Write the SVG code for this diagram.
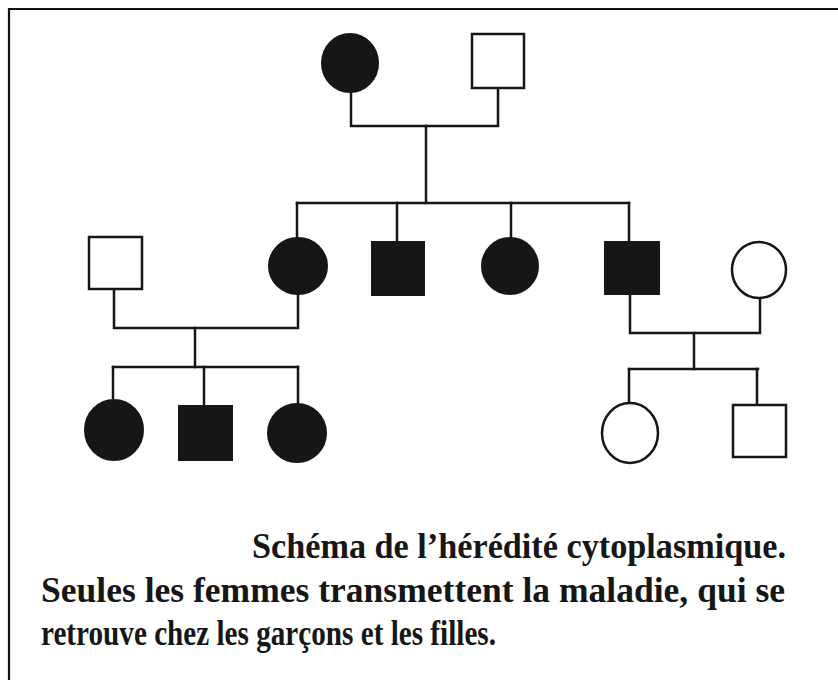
<svg xmlns="http://www.w3.org/2000/svg" width="838" height="680" viewBox="0 0 838 680">
<style>
  .frame { stroke: #111; stroke-width: 2.2; fill: none; }
  .aff { fill: #161616; stroke: #161616; stroke-width: 2; }
  .un { fill: #fff; stroke: #161616; stroke-width: 2.5; }
  .link { stroke: #161616; stroke-width: 2.5; fill: none; stroke-linecap: square; }
  .cap { font-family: "Liberation Serif", "Times New Roman", serif; font-weight: bold; font-size: 35px; fill: #161616; }
</style>
<rect width="838" height="680" fill="#fff"/>
<g id="frame">
  <path class="frame" d="M9 680 V9 H838"/>
</g>
<g id="connectors">
  <path class="link" d="M351 92 V126 H498 V88"/>
  <path class="link" d="M426 126 V203"/>
  <path class="link" d="M297 203 H629"/>
  <path class="link" d="M297 203 V237 M397 203 V242 M511 203 V238 M629 203 V242"/>
  <path class="link" d="M114 289 V328 H298 V295"/>
  <path class="link" d="M195 328 V367"/>
  <path class="link" d="M113 367 H298"/>
  <path class="link" d="M113 367 V400 M204 367 V406 M298 367 V404"/>
  <path class="link" d="M630 294 V333 H760 V298"/>
  <path class="link" d="M694 333 V369"/>
  <path class="link" d="M629 369 H758"/>
  <path class="link" d="M629 369 V403 M757 369 V405"/>
</g>
<g id="I1"><ellipse class="aff" cx="350" cy="63" rx="28" ry="29"/></g>
<g id="I2"><rect class="un" x="472" y="34" width="52" height="54"/></g>
<g id="II1"><rect class="un" x="89" y="237" width="53" height="52"/></g>
<g id="II2"><ellipse class="aff" cx="298" cy="266" rx="29" ry="28"/></g>
<g id="II3"><rect class="aff" x="372" y="242" width="52" height="53"/></g>
<g id="II4"><ellipse class="aff" cx="510" cy="266" rx="28" ry="28"/></g>
<g id="II5"><rect class="aff" x="605" y="242" width="54" height="52"/></g>
<g id="II6"><ellipse class="un" cx="759" cy="270" rx="27" ry="28"/></g>
<g id="III1"><ellipse class="aff" cx="114" cy="430" rx="29" ry="30"/></g>
<g id="III2"><rect class="aff" x="179" y="406" width="53" height="54"/></g>
<g id="III3"><ellipse class="aff" cx="297" cy="433" rx="29" ry="29"/></g>
<g id="III4"><ellipse class="un" cx="630" cy="433" rx="28" ry="30"/></g>
<g id="III5"><rect class="un" x="733" y="405" width="53" height="52"/></g>
<g id="caption">
  <text class="cap" x="252" y="558" textLength="534" lengthAdjust="spacingAndGlyphs">Schéma de l’hérédité cytoplasmique.</text>
  <text class="cap" x="41" y="602" textLength="744" lengthAdjust="spacingAndGlyphs">Seules les femmes transmettent la maladie, qui se</text>
  <text class="cap" x="41" y="645" textLength="455" lengthAdjust="spacingAndGlyphs">retrouve chez les garçons et les filles.</text>
</g>
</svg>
